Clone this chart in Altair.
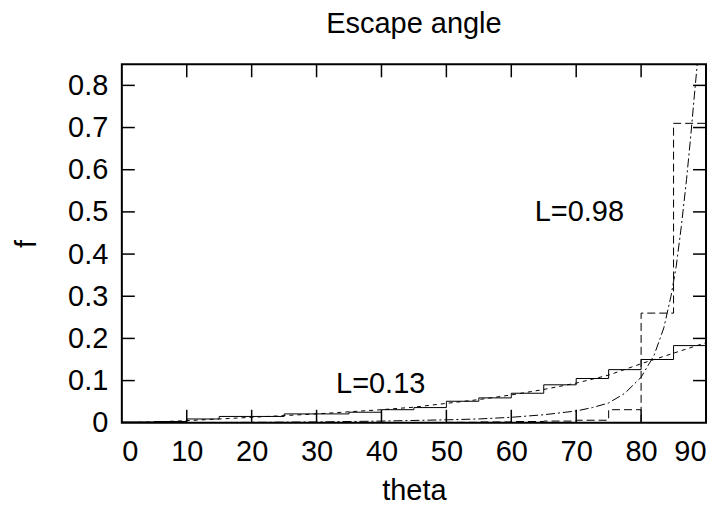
import altair as alt
import pandas as pd

# ---- data ----
bin_left = [0, 5, 10, 15, 20, 25, 30, 35, 40, 45, 50, 55, 60, 65, 70, 75, 80, 85]
hist_013 = [0.002, 0.003, 0.009, 0.015, 0.015, 0.021, 0.021, 0.025, 0.031, 0.036,
            0.051, 0.059, 0.070, 0.090, 0.105, 0.126, 0.150, 0.183]
hist_098 = [0.0, 0.0, 0.0, 0.0, 0.0, 0.0, 0.0, 0.0, 0.0, 0.0,
            0.001, 0.002, 0.003, 0.004, 0.006, 0.031, 0.260, 0.710]

curve_013_x = [0, 5, 10, 15, 20, 25, 30, 35, 40, 45, 50, 55, 60, 65, 70, 75, 80, 85, 90]
curve_013_f = [0.0, 0.002, 0.005, 0.009, 0.013, 0.017, 0.021, 0.026, 0.031, 0.037,
               0.046, 0.055, 0.066, 0.079, 0.094, 0.113, 0.140, 0.165, 0.190]

curve_098_x = [0, 10, 20, 30, 40, 50, 55, 60, 65, 70, 72.5, 75, 77.5, 80, 82, 83.5,
               84.6, 85.4, 86.2, 87, 87.6, 88.2, 88.6, 88.8]
curve_098_f = [0.0, 0.0005, 0.001, 0.002, 0.004, 0.007, 0.009, 0.013, 0.019, 0.028,
               0.036, 0.047, 0.070, 0.108, 0.160, 0.225, 0.300, 0.370, 0.466, 0.577,
               0.672, 0.775, 0.842, 0.880]

x_ticks = [0, 10, 20, 30, 40, 50, 60, 70, 80, 90]
y_ticks = [0, 0.1, 0.2, 0.3, 0.4, 0.5, 0.6, 0.7, 0.8]

labels = ["L=0.13", "L=0.98"]
label_x = [33.0, 63.6]
label_y = [0.071, 0.478]

FONT = "Liberation Sans"
FS = 29
W, H = 585, 359
TL = 13  # inward tick length

xs = alt.Scale(domain=[0, 90], nice=False, zero=False)
ys = alt.Scale(domain=[0, 0.85], nice=False)

def step_df(vals):
    return pd.DataFrame({"theta": bin_left + [90], "f": vals + [vals[-1]]})

X = alt.X("theta:Q", scale=xs,
          axis=alt.Axis(values=x_ticks, title="theta", format="d"))
Y = alt.Y("f:Q", scale=ys,
          axis=alt.Axis(values=y_ticks, title="f", format="~g"))

h013 = alt.Chart(step_df(hist_013)).mark_line(
    interpolate="step-after", color="black", strokeWidth=1, clip=True
).encode(x=X, y=Y)

h098 = alt.Chart(step_df(hist_098)).mark_line(
    interpolate="step-after", color="black", strokeWidth=1, strokeDash=[8, 4], clip=True
).encode(x="theta:Q", y="f:Q")

# vertical edge of the dashed histogram at theta=80 down to the axis
edge = alt.Chart(pd.DataFrame({"theta": [bin_left[16]], "f0": [0.0],
                               "f1": [hist_098[15]]})).mark_rule(
    color="black", strokeWidth=1, strokeDash=[8, 4]
).encode(x="theta:Q", y="f0:Q", y2="f1:Q")

c013 = alt.Chart(pd.DataFrame({"theta": curve_013_x, "f": curve_013_f})).mark_line(
    color="black", strokeWidth=1, strokeDash=[4, 4], clip=True
).encode(x="theta:Q", y="f:Q")

c098 = alt.Chart(pd.DataFrame({"theta": curve_098_x, "f": curve_098_f})).mark_line(
    color="black", strokeWidth=1, strokeDash=[9, 3, 2, 3], clip=True
).encode(x="theta:Q", y="f:Q")

txt = alt.Chart(pd.DataFrame({"theta": label_x, "f": label_y, "t": labels})).mark_text(
    align="left", baseline="alphabetic", font=FONT, fontSize=FS, color="black"
).encode(x="theta:Q", y="f:Q", text="t:N")

xt = pd.DataFrame({"theta": x_ticks[1:-1]})
yt = pd.DataFrame({"f": y_ticks[1:]})
tb = alt.Chart(xt).mark_rule(color="black", strokeWidth=1.5).encode(
    x="theta:Q", y=alt.value(H), y2=alt.value(H - TL))
tt = alt.Chart(xt).mark_rule(color="black", strokeWidth=1.5).encode(
    x="theta:Q", y=alt.value(0), y2=alt.value(TL))
tl = alt.Chart(yt).mark_rule(color="black", strokeWidth=1.5).encode(
    y="f:Q", x=alt.value(0), x2=alt.value(TL))
tr = alt.Chart(yt).mark_rule(color="black", strokeWidth=1.5).encode(
    y="f:Q", x=alt.value(W), x2=alt.value(W - TL))

chart = alt.layer(h013, h098, edge, c013, c098, txt, tb, tt, tl, tr).properties(
    width=W, height=H,
    title=alt.TitleParams("Escape angle", font=FONT, fontSize=FS,
                          fontWeight="normal", color="black", anchor="middle",
                          offset=25),
    autosize=alt.AutoSizeParams(type="none"),
    padding={"left": 114, "top": 56, "right": 10, "bottom": 90},
).configure_view(
    stroke="black", strokeWidth=2
).configure_axis(
    grid=False, ticks=False, domain=False,
    labelFont=FONT, labelFontSize=FS, labelColor="black",
    titleFont=FONT, titleFontSize=FS, titleFontWeight="normal", titleColor="black",
).configure_axisX(
    labelPadding=15, titlePadding=10
).configure_axisY(
    labelPadding=14, titlePadding=26
)

chart.save("out.html", embed_options={"renderer": "svg", "actions": False})
